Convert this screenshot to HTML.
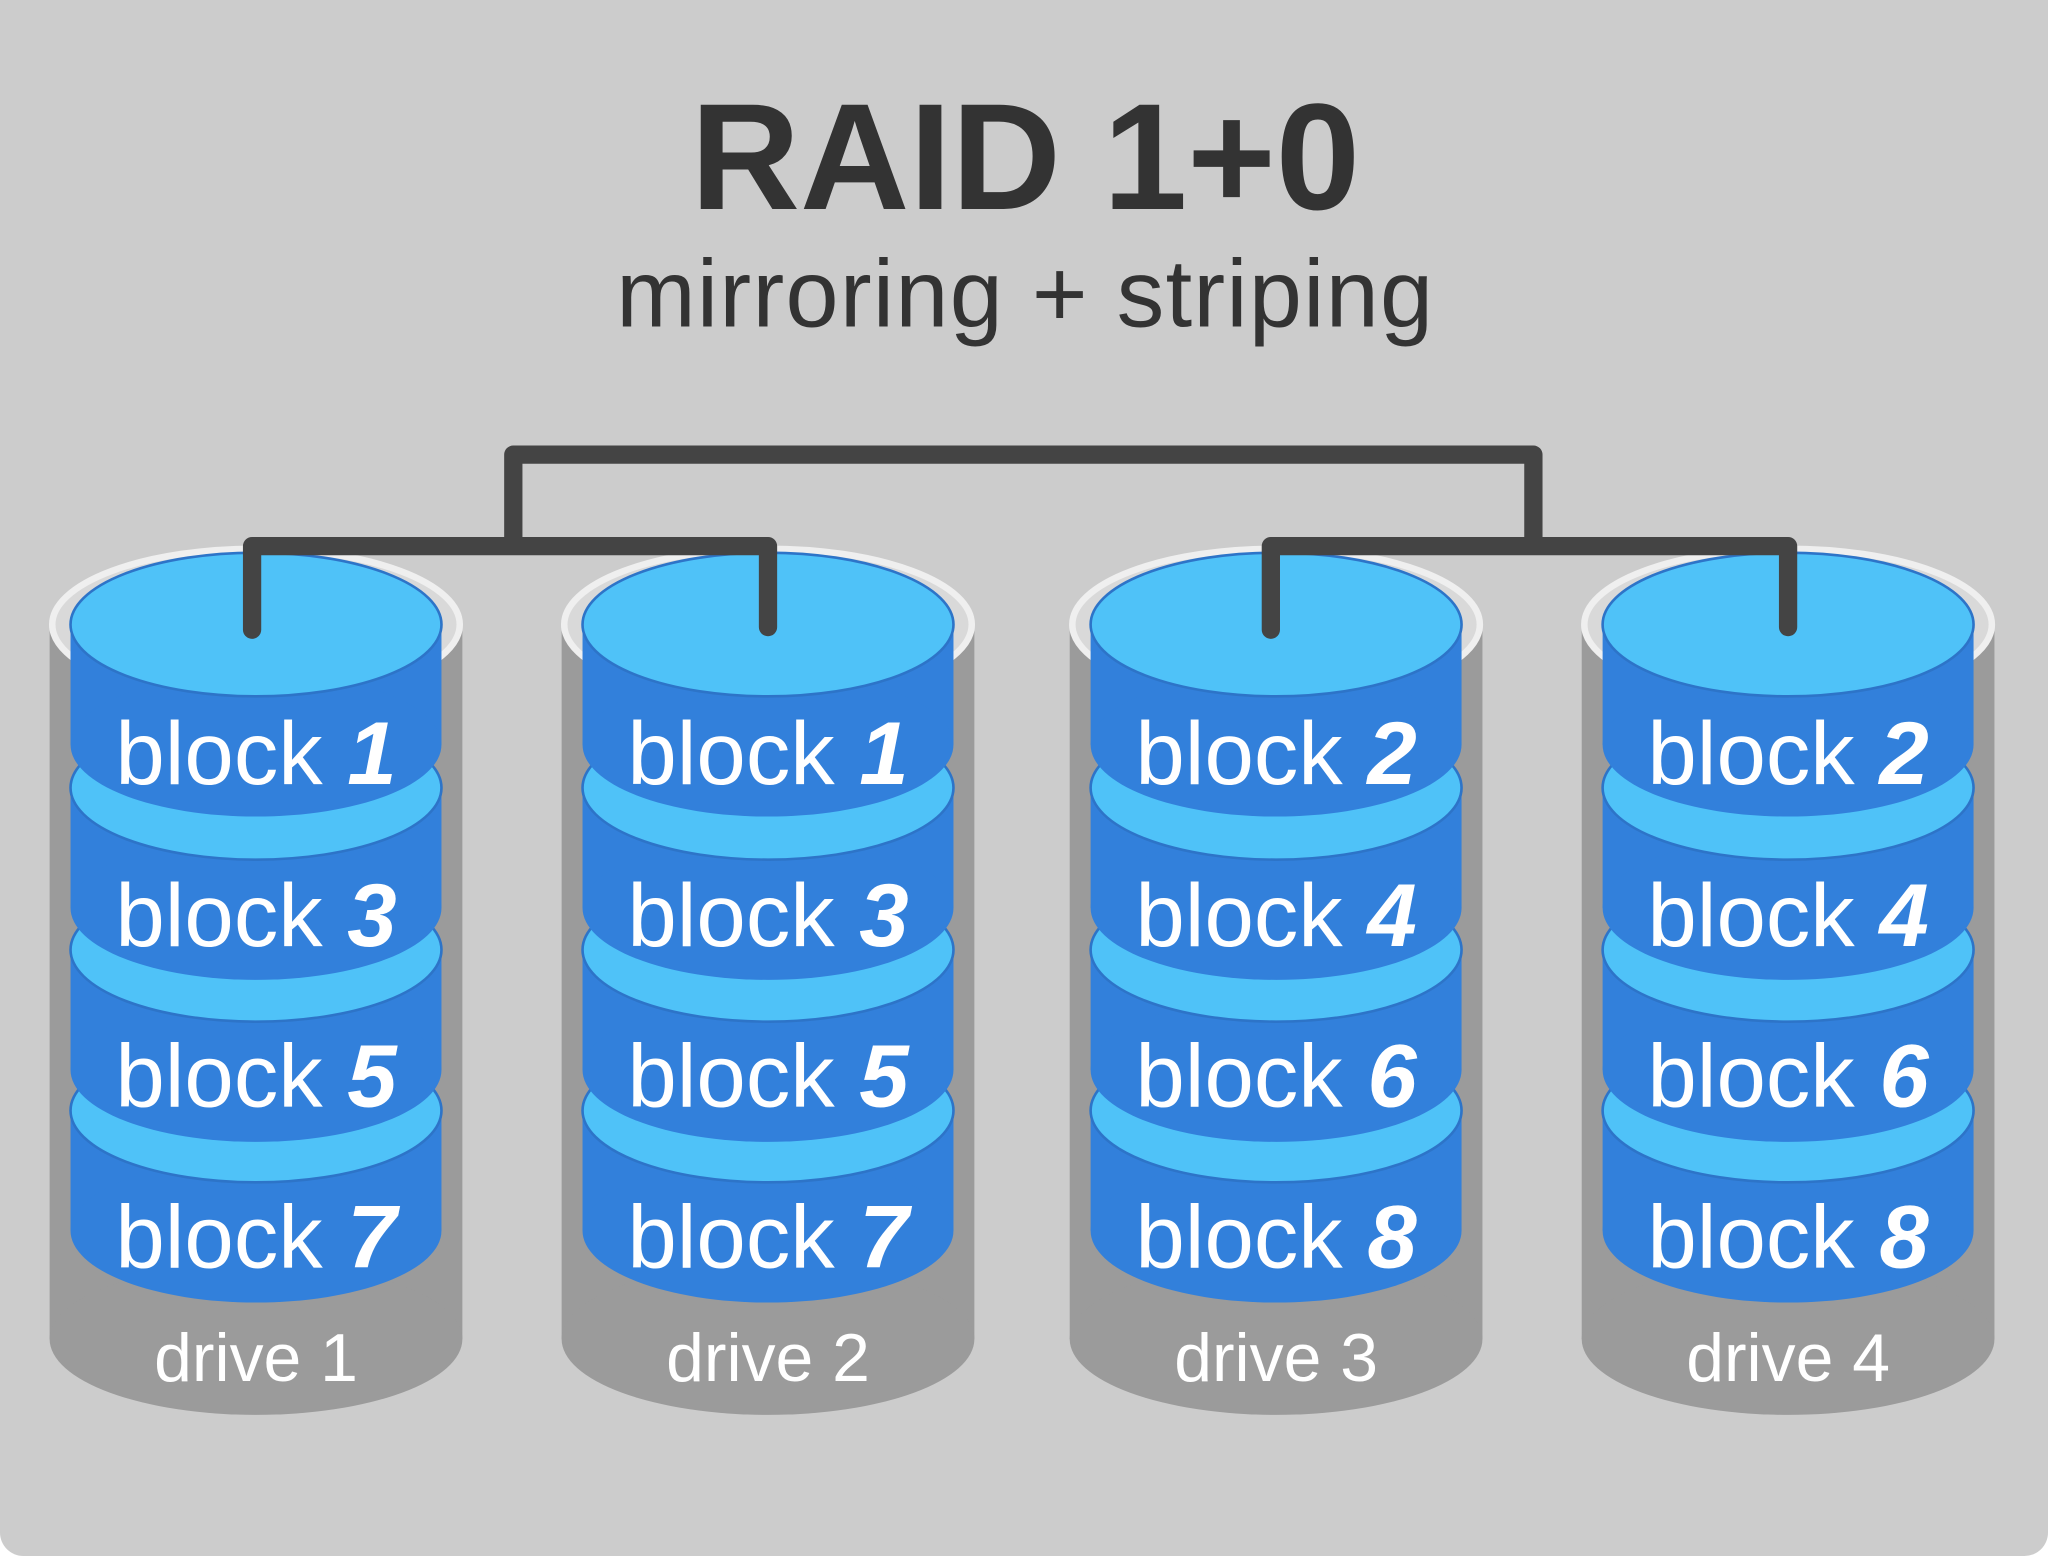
<!DOCTYPE html>
<html><head><meta charset="utf-8"><style>
html,body{margin:0;padding:0;background:#fff;}
svg{display:block;}
</style></head><body>
<svg width="2048" height="1556" viewBox="0 0 1568 1191" preserveAspectRatio="none" xmlns="http://www.w3.org/2000/svg">
<defs>
<g id="drive">
  <rect x="-158" y="478" width="316" height="547" fill="#9b9b9b"/>
  <ellipse cx="0" cy="1025" rx="158" ry="58" fill="#9b9b9b"/>
  <ellipse cx="0" cy="478" rx="156" ry="58" fill="#d9d9d9" stroke="#efefef" stroke-width="5"/>
</g>
<g id="blk">
  <rect x="-142" y="0" width="284" height="92" fill="#3280db"/>
  <ellipse cx="0" cy="92" rx="142" ry="55" fill="#3280db"/>
  <ellipse cx="0" cy="0" rx="142" ry="55" fill="#4fc2f8" stroke="#2d74c8" stroke-width="2"/>
</g>
</defs>
<rect x="0" y="0" width="1568" height="1191" rx="18" fill="#cccccc"/>
<rect x="0" y="0" width="1568" height="40" fill="#cccccc"/>
<text x="785" y="160" text-anchor="middle" font-family="Liberation Sans, sans-serif" font-weight="bold" font-size="116" fill="#333">RAID 1+0</text>
<text x="785" y="250" text-anchor="middle" font-family="Liberation Sans, sans-serif" font-size="73" letter-spacing="1" fill="#333">mirroring + striping</text>

<g font-family="Liberation Sans, sans-serif" fill="#fff">
<g transform="translate(196,0)"><use href="#drive"/>
 <use href="#blk" y="850"/><use href="#blk" y="727"/><use href="#blk" y="603"/><use href="#blk" y="478"/>
 <text y="600" text-anchor="middle" font-size="68">block <tspan font-weight="bold" font-style="italic">1</tspan></text>
 <text y="724" text-anchor="middle" font-size="68">block <tspan font-weight="bold" font-style="italic">3</tspan></text>
 <text y="847" text-anchor="middle" font-size="68">block <tspan font-weight="bold" font-style="italic">5</tspan></text>
 <text y="970" text-anchor="middle" font-size="68">block <tspan font-weight="bold" font-style="italic">7</tspan></text>
 <text y="1057" text-anchor="middle" font-size="52">drive 1</text>
</g>
<g transform="translate(588,0)"><use href="#drive"/>
 <use href="#blk" y="850"/><use href="#blk" y="727"/><use href="#blk" y="603"/><use href="#blk" y="478"/>
 <text y="600" text-anchor="middle" font-size="68">block <tspan font-weight="bold" font-style="italic">1</tspan></text>
 <text y="724" text-anchor="middle" font-size="68">block <tspan font-weight="bold" font-style="italic">3</tspan></text>
 <text y="847" text-anchor="middle" font-size="68">block <tspan font-weight="bold" font-style="italic">5</tspan></text>
 <text y="970" text-anchor="middle" font-size="68">block <tspan font-weight="bold" font-style="italic">7</tspan></text>
 <text y="1057" text-anchor="middle" font-size="52">drive 2</text>
</g>
<g transform="translate(977,0)"><use href="#drive"/>
 <use href="#blk" y="850"/><use href="#blk" y="727"/><use href="#blk" y="603"/><use href="#blk" y="478"/>
 <text y="600" text-anchor="middle" font-size="68">block <tspan font-weight="bold" font-style="italic">2</tspan></text>
 <text y="724" text-anchor="middle" font-size="68">block <tspan font-weight="bold" font-style="italic">4</tspan></text>
 <text y="847" text-anchor="middle" font-size="68">block <tspan font-weight="bold" font-style="italic">6</tspan></text>
 <text y="970" text-anchor="middle" font-size="68">block <tspan font-weight="bold" font-style="italic">8</tspan></text>
 <text y="1057" text-anchor="middle" font-size="52">drive 3</text>
</g>
<g transform="translate(1369,0)"><use href="#drive"/>
 <use href="#blk" y="850"/><use href="#blk" y="727"/><use href="#blk" y="603"/><use href="#blk" y="478"/>
 <text y="600" text-anchor="middle" font-size="68">block <tspan font-weight="bold" font-style="italic">2</tspan></text>
 <text y="724" text-anchor="middle" font-size="68">block <tspan font-weight="bold" font-style="italic">4</tspan></text>
 <text y="847" text-anchor="middle" font-size="68">block <tspan font-weight="bold" font-style="italic">6</tspan></text>
 <text y="970" text-anchor="middle" font-size="68">block <tspan font-weight="bold" font-style="italic">8</tspan></text>
 <text y="1057" text-anchor="middle" font-size="52">drive 4</text>
</g>
</g>

<g fill="none" stroke="#444" stroke-width="14" stroke-linejoin="round" stroke-linecap="round">
  <polyline points="393,412 393,348 1174,348 1174,412"/>
  <polyline points="193,482 193,418 588,418 588,480"/>
  <polyline points="973,482 973,418 1369,418 1369,480"/>
</g>
</svg>
</body></html>
